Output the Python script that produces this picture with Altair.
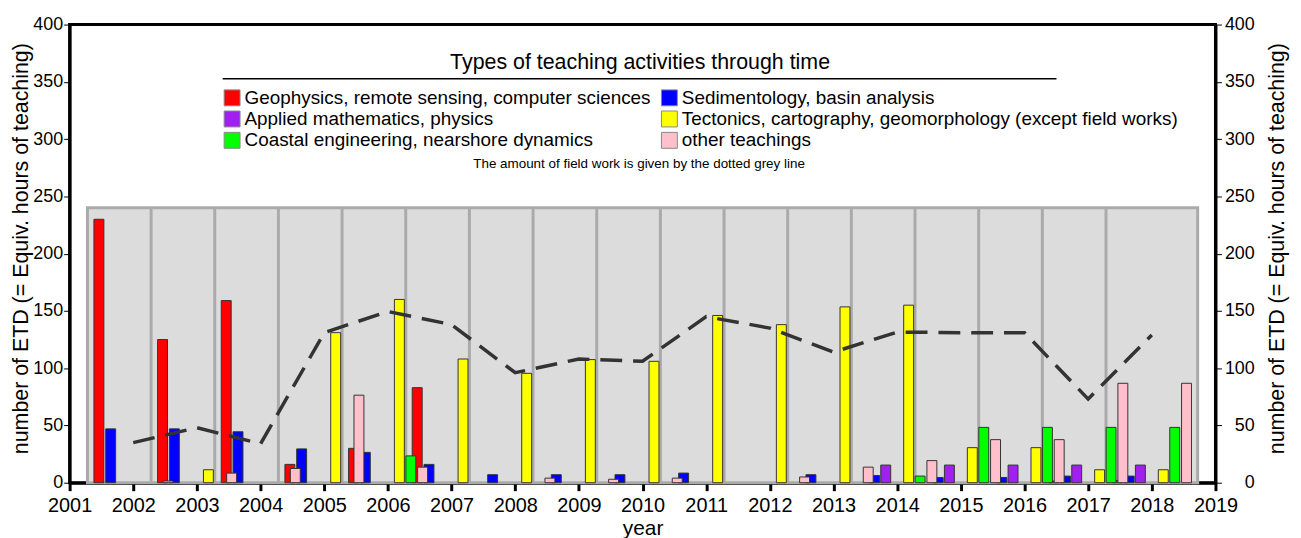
import altair as alt
import pandas as pd

# ---------------- data ----------------
years = list(range(2001, 2019))
categories = [
    "Geophysics, remote sensing, computer sciences",
    "Sedimentology, basin analysis",
    "Applied mathematics, physics",
    "Tectonics, cartography, geomorphology (except field works)",
    "Coastal engineering, nearshore dynamics",
    "other teachings",
]
colors = ["#ff0000", "#0000ff", "#a020f0", "#ffff00", "#00ff00", "#ffc0cb"]

#              2001 2002 2003 2004 2005 2006 2007 2008 2009 2010 2011 2012 2013 2014 2015 2016 2017 2018
geophysics = [230, 125, 159, 16, 30, 83, 0, 0, 0, 0, 0, 0, 0, 0, 0, 1.5, 2, 0]
sedimentology = [47, 47, 44.5, 29.5, 26.5, 16, 7, 7, 7, 8.4, 0, 7, 6.3, 4.6, 4.6, 5.8, 5.8, 0]
applied_math = [0, 0, 0, 0, 0, 0, 0, 0, 0, 0, 0, 0, 15.4, 15.4, 15.4, 15.4, 15.4, 0]
tectonics = [0, 0, 11.3, 0, 131, 160, 108, 95.5, 107.5, 106, 146, 138, 153.5, 155, 30.6, 30.6, 11.3, 11.3]
coastal = [0, 0, 0, 0, 0, 23.4, 0, 0, 0, 0, 0, 0, 0, 5.8, 48.3, 48.3, 48.3, 48.3]
other = [0, 1.5, 8.4, 12.4, 76.4, 13.6, 0, 4, 3, 4, 0, 5, 13.6, 19.3, 37.6, 37.6, 86.8, 86.8]

fieldwork_years = list(range(2002, 2019))
fieldwork = [35, 48, 34, 131, 149.5, 138, 96, 108, 106, 145, 135, 114, 131.5, 131, 131, 73, 129]

year_ticks = list(range(2001, 2020))
y_ticks = list(range(0, 401, 50))

# structure of the grey background (one panel per teaching year)
panel_start = 2001.28
panel_end = 2018.72
panel_top = 240
separators = [y + 0.28 for y in range(2002, 2018)]

# horizontal slot of each category inside a year group (fraction of a year)
slot = {
    categories[0]: 0.46,
    categories[1]: 0.645,
    categories[2]: 0.82,
    categories[3]: 0.18,
    categories[4]: 0.36,
    categories[5]: 0.545,
}
half_w = 0.078
draw_order = [0, 4, 3, 2, 1, 5]
# legend is filled column by column: reorder so rows read as in the original
legend_order = [categories[i] for i in [0, 2, 4, 1, 3, 5]]
legend_colors = [colors[i] for i in [0, 2, 4, 1, 3, 5]]

series = [geophysics, sedimentology, applied_math, tectonics, coastal, other]
rows = []
for ci in draw_order:
    cat = categories[ci]
    for y, v in zip(years, series[ci]):
        if v > 0:
            rows.append({"year": y, "category": cat, "value": v,
                         "xa": y + slot[cat] - half_w, "xb": y + slot[cat] + half_w,
                         "base": 0})
bars_df = pd.DataFrame(rows)
line_df = pd.DataFrame({"year": fieldwork_years, "hours": fieldwork})
panel_df = pd.DataFrame({"xa": [panel_start], "xb": [panel_end], "top": [panel_top], "base": [0]})
sep_df = pd.DataFrame({"x": separators, "top": [panel_top] * len(separators), "base": [0] * len(separators)})
one = pd.DataFrame({"a": [0]})

FONT = "Liberation Sans"
xscale = alt.Scale(domain=[2001, 2019], nice=False, zero=False)
yscale = alt.Scale(domain=[0, 400], nice=False)

x_axis = alt.Axis(values=year_ticks, format="d", title="year", domainWidth=3, domainColor="black",
                  tickColor="black", tickWidth=3, tickSize=8, labelFontSize=20, labelPadding=5,
                  labelColor="black", titleFontSize=21, titleFontWeight="normal", titleColor="black",
                  titlePadding=2, grid=False, labelFlush=False)

y_title = "number of ETD (= Equiv. hours of teaching)"
left_axis = alt.Axis(orient="left", values=y_ticks, title=y_title, domainWidth=3, domainColor="black",
                     tickColor="black", tickWidth=1, tickSize=6, labelFontSize=18, labelPadding=1,
                     labelColor="black", titleFontSize=21.5, titleFontWeight="normal", titleColor="black",
                     titleX=-42, titleY=225, titleAngle=270, titleBaseline="alphabetic",
                     titleAlign="center", grid=False)
right_axis = alt.Axis(orient="right", values=y_ticks, title=y_title, domainWidth=3, domainColor="black",
                      tickColor="black", tickWidth=1, tickSize=6, labelFontSize=18, labelPadding=33,
                      labelAlign="right", labelColor="black", titleFontSize=21.5, titleFontWeight="normal",
                      titleColor="black", titleX=68, titleY=225, titleAngle=270,
                      titleBaseline="alphabetic", titleAlign="center", grid=False)

panel = alt.Chart(panel_df).mark_rect(fill="#dcdcdc", stroke="#aaaaaa", strokeWidth=3).encode(
    x=alt.X("xa:Q", scale=xscale, axis=x_axis), x2="xb:Q",
    y=alt.Y("top:Q", scale=yscale, axis=None), y2="base:Q")

seps = alt.Chart(sep_df).mark_rule(color="#aaaaaa", strokeWidth=3).encode(
    x=alt.X("x:Q", scale=xscale, axis=x_axis),
    y=alt.Y("top:Q", scale=yscale, axis=None), y2="base:Q")

bars = alt.Chart(bars_df).mark_rect(stroke="#333333", strokeWidth=1).encode(
    x=alt.X("xa:Q", scale=xscale, axis=x_axis), x2="xb:Q",
    y=alt.Y("value:Q", scale=yscale, axis=left_axis), y2="base:Q",
    color=alt.Color("category:N", scale=alt.Scale(domain=legend_order, range=legend_colors),
                    legend=alt.Legend(orient="none", legendX=154, legendY=64, columns=2,
                                      symbolType="square", symbolSize=256, symbolStrokeColor="#888888",
                                      symbolStrokeWidth=1, labelFontSize=19, labelOffset=3,
                                      labelColor="black", rowPadding=0.5, columnPadding=8, padding=0,
                                      title=None, labelLimit=0, gridAlign="each")))

line = alt.Chart(line_df).mark_line(color="#333333", strokeWidth=3.5, strokeDash=[22, 11]).encode(
    x=alt.X("year:Q", scale=xscale, axis=x_axis),
    y=alt.Y("hours:Q", scale=yscale, axis=right_axis))

title = alt.Chart(one).mark_text(text="Types of teaching activities through time", fontSize=21.5,
                                 align="center", baseline="alphabetic", color="black").encode(
    x=alt.value(574), y=alt.value(45))
underline = alt.Chart(one).mark_rule(color="black", strokeWidth=1.5).encode(
    x=alt.value(154), x2=alt.value(993), y=alt.value(54.5))
caption = alt.Chart(one).mark_text(text="The amount of field work is given by the dotted grey line",
                                   fontSize=13.5, align="center", baseline="alphabetic", color="black").encode(
    x=alt.value(573), y=alt.value(144))

chart = alt.layer(panel, seps, bars, line, title, underline, caption).resolve_scale(
    y="independent").properties(
    width=1153, height=461, autosize="none",
    padding={"left": 62, "top": 15, "right": 78, "bottom": 58},
).configure(font=FONT).configure_view(stroke="black", strokeWidth=3)

chart.save("out.html", embed_options={"renderer": "svg", "actions": False})
